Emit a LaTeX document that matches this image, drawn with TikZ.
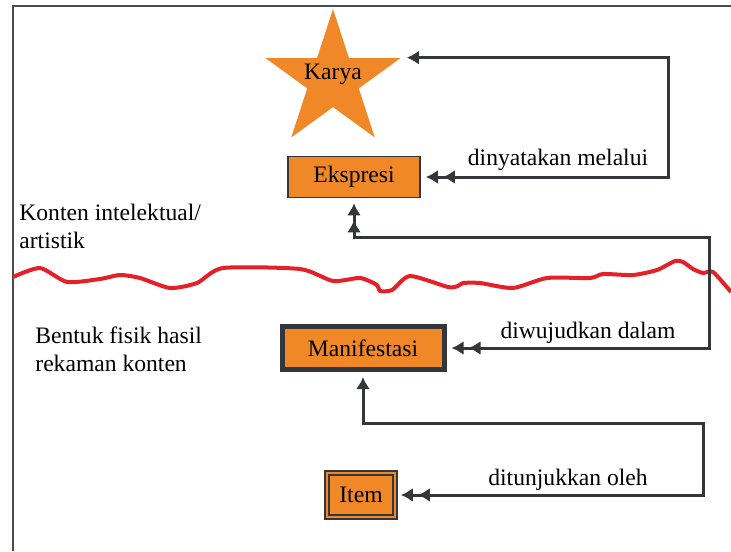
\documentclass[tikz,border=0pt]{standalone}
\usepackage{fontspec}
\setmainfont{Liberation Serif}
\usetikzlibrary{arrows.meta, shapes.geometric, positioning}
\definecolor{karyaorange}{RGB}{240,136,40}
\definecolor{linkgray}{RGB}{52,54,60}
\definecolor{wavered}{RGB}{228,32,40}

\begin{document}
\begin{tikzpicture}[
        x=0.5pt, y=-0.5pt, >={Latex[length=6pt,width=7pt,sep=2.5pt]},
        every node/.style={font=\fontsize{11.8}{14}\selectfont},
        box/.style={rectangle, fill=karyaorange, draw=linkgray, inner sep=0pt},
        link/.style={draw=linkgray, line width=1.5pt},
        side/.style={align=left, anchor=north west, inner sep=0pt},
        ]
        \useasboundingbox (0,0) rectangle (731,551);
        \draw[black!70, line width=1pt] (13,551) -- (13,6) -- (731,6);

        % the work and its expression
        \node[star, star points=5, star point ratio=2.618, fill=karyaorange,
              minimum size=71pt, inner sep=0pt] (karya) at (333,80) {};
        \node (karyatext) at ([yshift=3pt]karya.center) {Karya};
        \node[box, line width=0.8pt, minimum width=66pt, minimum height=20.5pt] (ekspresi) at (354,177) {Ekspresi};

        % physical side
        \node[box, line width=2.5pt, minimum width=81pt, minimum height=21.5pt] (manifestasi) at (363,348) {Manifestasi};
        \node[box, line width=0.8pt, double=karyaorange, double distance=1.4pt,
              minimum width=34pt, minimum height=22pt] (item) at (361,495) {Item};

        \node[side] (konten) at (19,204) {Konten intelektual/\\artistik};
        \node[side] (bentuk) at (35,326) {Bentuk fisik hasil\\rekaman konten};

        % boundary between content and carrier
        \draw[wavered, line width=2pt, line join=round] plot[smooth, tension=0.4] coordinates {
            (13,277) (40,268) (67,282) (100,279) (120,275) (140,278) (170,288) (197,283)
            (223,268) (300,269) (333,281) (360,278) (377,285) (380,291) (392,290) (410,276)
            (448,287) (458,286) (463,283) (480,283) (513,288) (547,278) (590,278) (603,274)
            (633,275) (657,270) (675,261) (683,262) (693,269) (703,273) (713,272) (731,292)};

        \coordinate (c1) at (668,0);
        \coordinate (c2) at (709,237);
        \coordinate (c3) at (703,423);

        \path[link, <<->] (ekspresi.east) -| (c1 |- karya.outer point 5) -- (karya.outer point 5);
        \path[link, <<->>] (manifestasi.east) -| (c2) -| (ekspresi.south);
        \path[link, <<->] (item.east) -| (c3) -| (manifestasi.south);

        \node (dinyatakan) at (558,160) {dinyatakan melalui};
        \node (diwujudkan) at (588,333) {diwujudkan dalam};
        \node (ditunjukkan) at (568,480) {ditunjukkan oleh};
      \end{tikzpicture}
\end{document}
